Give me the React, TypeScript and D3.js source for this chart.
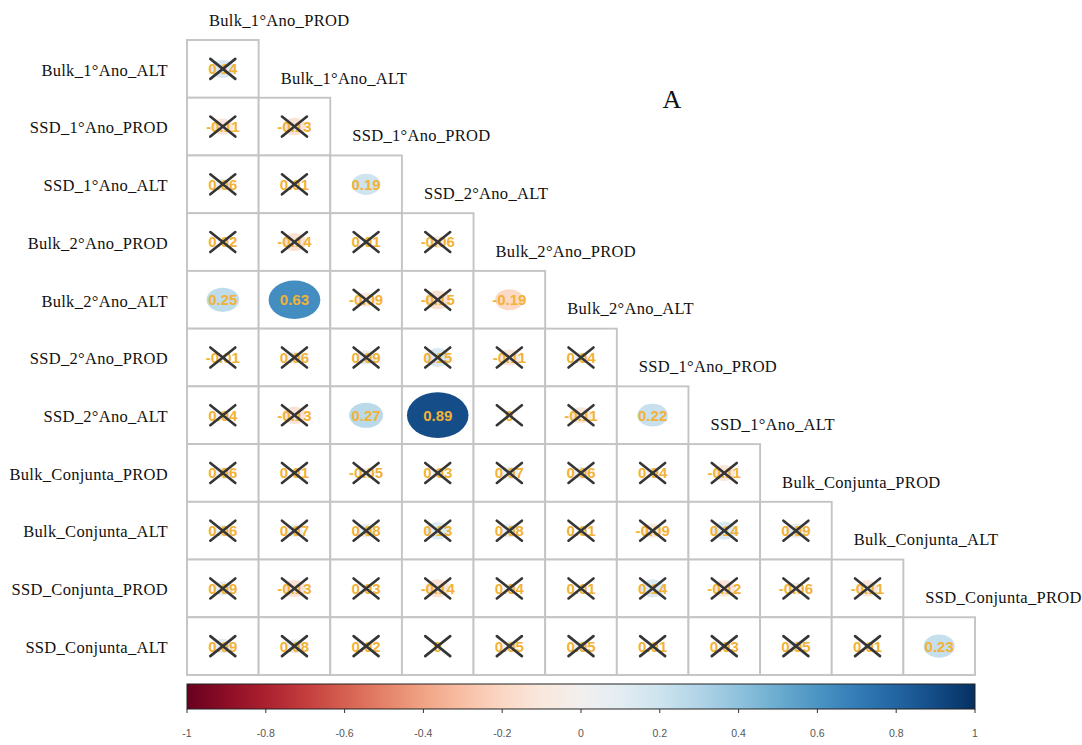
import React from "react";
import * as d3 from "d3";

// Variable names down the left side (rows) and along the staircase (columns)
const rowLabels = [
  "Bulk_1°Ano_ALT",
  "SSD_1°Ano_PROD",
  "SSD_1°Ano_ALT",
  "Bulk_2°Ano_PROD",
  "Bulk_2°Ano_ALT",
  "SSD_2°Ano_PROD",
  "SSD_2°Ano_ALT",
  "Bulk_Conjunta_PROD",
  "Bulk_Conjunta_ALT",
  "SSD_Conjunta_PROD",
  "SSD_Conjunta_ALT",
];

const colLabels = [
  "Bulk_1°Ano_PROD",
  "Bulk_1°Ano_ALT",
  "SSD_1°Ano_PROD",
  "SSD_2°Ano_ALT",
  "Bulk_2°Ano_PROD",
  "Bulk_2°Ano_ALT",
  "SSD_1°Ano_PROD",
  "SSD_1°Ano_ALT",
  "Bulk_Conjunta_PROD",
  "Bulk_Conjunta_ALT",
  "SSD_Conjunta_PROD",
];

// Lower-triangular Pearson correlations, one list per row
const corrValues: number[][] = [
  [0.14],
  [-0.11, -0.13],
  [0.06, 0.01, 0.19],
  [0.02, -0.14, 0.01, -0.06],
  [0.25, 0.63, -0.09, -0.15, -0.19],
  [-0.01, 0.06, 0.09, 0.15, -0.11, 0.04],
  [0.04, -0.13, 0.27, 0.89, 0, -0.11, 0.22],
  [0.06, 0.01, -0.05, 0.03, 0.07, 0.06, 0.04, -0.11],
  [0.06, 0.07, 0.08, 0.13, 0.08, 0.01, -0.09, 0.14, 0.09],
  [0.09, -0.13, 0.03, -0.14, 0.04, 0.01, 0.14, -0.12, -0.06, -0.11],
  [0.09, 0.08, 0.02, 0, 0.05, 0.05, 0.01, 0.03, 0.05, 0.01, 0.23],
];

// Cells whose correlation is significant (drawn without a cross)
const significantCells: [number, number][] = [
  [2, 2],
  [4, 0],
  [4, 1],
  [4, 4],
  [6, 2],
  [6, 3],
  [6, 6],
  [10, 10],
];

const legendTicks = [-1, -0.8, -0.6, -0.4, -0.2, 0, 0.2, 0.4, 0.6, 0.8, 1];

const W = 1082;
const H = 745;
const serif = "'Liberation Serif', 'Times New Roman', serif";
const sans = "'Liberation Sans', Arial, sans-serif";

function fmt(v: number): string {
  if (v === 0) return "0";
  return v.toFixed(2).replace(/0+$/, "").replace(/\.$/, "");
}

export default function App() {
  const n = rowLabels.length;
  const x = d3.scaleBand<number>().domain(d3.range(n)).range([187, 975]);
  const y = d3.scaleBand<number>().domain(d3.range(n)).range([40, 675]);
  const bw = x.bandwidth();
  const bh = y.bandwidth();
  const color = (v: number) => d3.interpolateRdBu((v + 1) / 2);
  const legendX = d3.scaleLinear().domain([-1, 1]).range([187, 975]);
  const isSig = (r: number, c: number) =>
    significantCells.some(([a, b]) => a === r && b === c);

  const stops = d3.range(0, 1.0001, 0.05);

  const cells: React.ReactNode[] = [];
  corrValues.forEach((row, r) => {
    row.forEach((v, c) => {
      const cx = x(c)! + bw / 2;
      const cy = y(r)! + bh / 2;
      const s = Math.sqrt(Math.abs(v));
      cells.push(
        <g key={`c${r}-${c}`}>
          <rect x={x(c)} y={y(r)} width={bw} height={bh} fill="#fff" stroke="#c4c4c4" strokeWidth={1.9} />
          {v !== 0 && (
            <ellipse cx={cx} cy={cy} rx={0.455 * s * bw} ry={0.42 * s * bh} fill={color(v)} />
          )}
          <text
            x={cx}
            y={cy}
            dy="0.36em"
            textAnchor="middle"
            fontFamily={sans}
            fontWeight="bold"
            fontSize={15}
            fill="#f2b236"
          >
            {fmt(v)}
          </text>
          {!isSig(r, c) && (
            <g stroke="#353535" strokeWidth={2.6} strokeLinecap="round">
              <line x1={cx - 12.5} y1={cy - 10} x2={cx + 12.5} y2={cy + 10} />
              <line x1={cx - 12.5} y1={cy + 10} x2={cx + 12.5} y2={cy - 10} />
            </g>
          )}
        </g>
      );
    });
  });

  return (
    <svg
      width={W}
      height={H}
      viewBox={`0 0 ${W} ${H}`}
      style={{ position: "absolute", left: 0, top: 0, background: "#fff" }}
    >
      <defs>
        <linearGradient id="rdbu" x1="0" x2="1" y1="0" y2="0">
          {stops.map((t) => (
            <stop key={t} offset={`${t * 100}%`} stopColor={d3.interpolateRdBu(t)} />
          ))}
        </linearGradient>
      </defs>

      {cells}

      {/* Row labels */}
      {rowLabels.map((lab, i) => (
        <text
          key={`r${i}`}
          x={168}
          y={y(i)! + bh / 2 + 1}
          dy="0.35em"
          textAnchor="end"
          fontFamily={serif}
          fontSize={16.5}
          letterSpacing={0.3}
          fill="#111"
        >
          {lab}
        </text>
      ))}

      {/* Column labels, stepped above each column */}
      {colLabels.map((lab, j) => (
        <text
          key={`k${j}`}
          x={x(j)! + 22}
          y={y(j)! - 20}
          dy="0.35em"
          fontFamily={serif}
          fontSize={16.5}
          letterSpacing={0.3}
          fill="#111"
        >
          {lab}
        </text>
      ))}

      <text x={672} y={108} textAnchor="middle" fontFamily={serif} fontSize={26} fill="#111">
        A
      </text>

      {/* Colour legend */}
      <rect x={legendX(-1)} y={684} width={legendX(1) - legendX(-1)} height={25} fill="url(#rdbu)" stroke="#222" strokeWidth={1} />
      {legendTicks.map((t) => (
        <g key={`t${t}`}>
          <line x1={legendX(t)} x2={legendX(t)} y1={709} y2={713} stroke="#333" strokeWidth={1} />
          <text
            x={legendX(t)}
            y={737}
            textAnchor="middle"
            fontFamily={sans}
            fontSize={10.5}
            fill="#555"
          >
            {t}
          </text>
        </g>
      ))}
    </svg>
  );
}
